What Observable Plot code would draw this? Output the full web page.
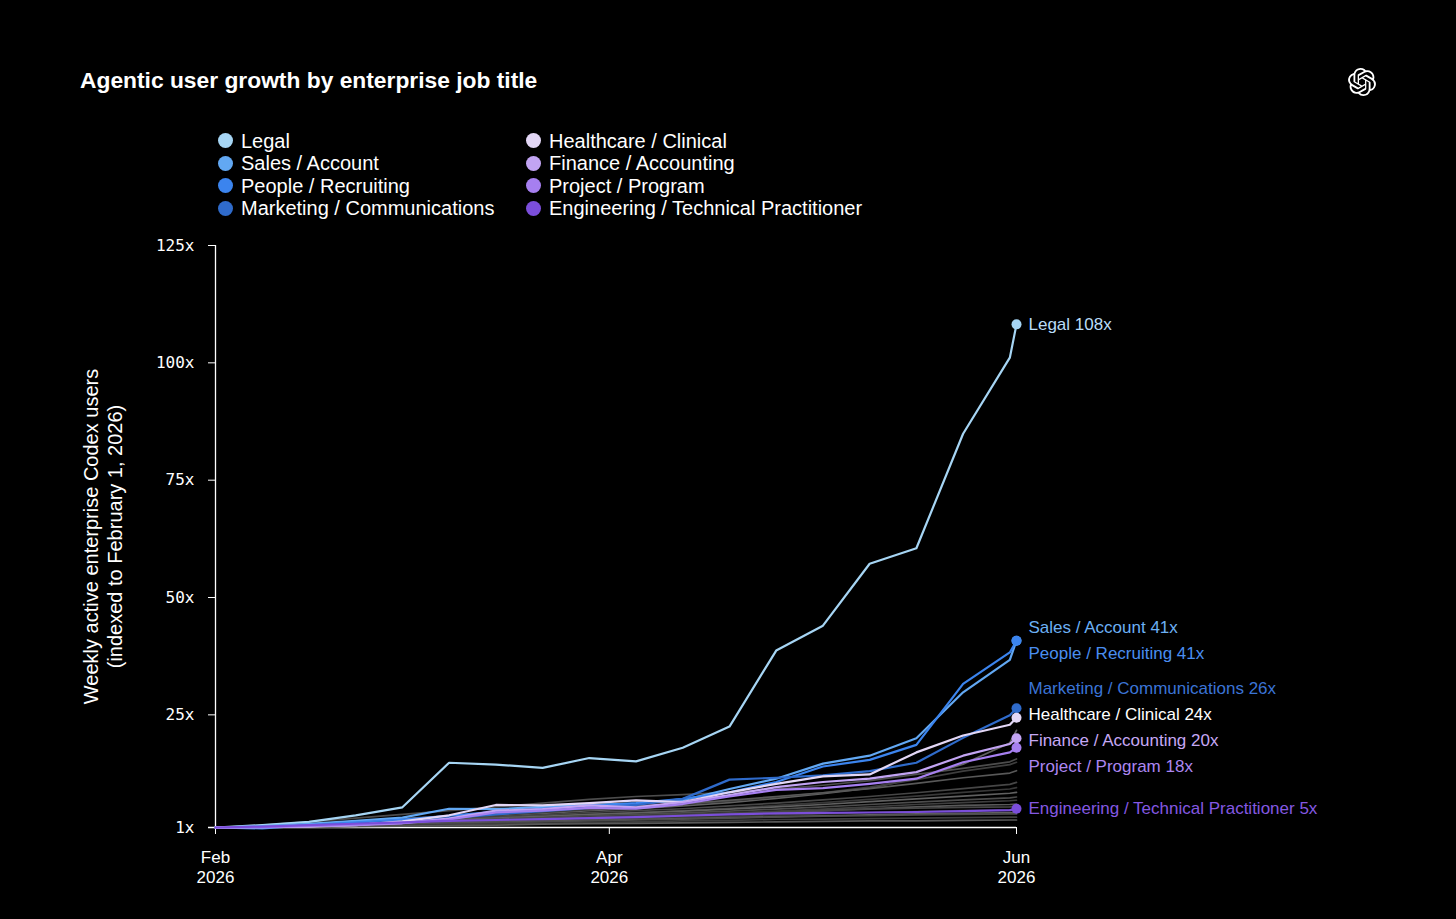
<!DOCTYPE html>
<html><head><meta charset="utf-8">
<script src="https://cdn.jsdelivr.net/npm/d3@7"></script>
<script src="https://cdn.jsdelivr.net/npm/@observablehq/plot@0.6"></script>
<style>
html,body{margin:0;padding:0;background:#000;}
body{width:1456px;height:919px;position:relative;overflow:hidden;font-family:"Liberation Sans",Arial,Helvetica,sans-serif;color:#fff;}
#title{position:absolute;left:80px;top:69px;font-size:22.8px;font-weight:bold;line-height:1;white-space:nowrap;}
#logo{position:absolute;left:1348px;top:68px;width:28px;height:28px;}
.legend{position:absolute;top:129.5px;font-size:20px;}
.legend .row{display:flex;align-items:center;white-space:nowrap;height:22.6px;line-height:22.6px;}
.legend .sw{display:inline-block;width:15px;height:15px;border-radius:50%;margin-right:8.5px;flex:none;}
#chart{position:absolute;left:0;top:225px;}
</style></head><body>
<div id="title">Agentic user growth by enterprise job title</div>
<svg id="logo" viewBox="0 0 24 24"><path fill="#fff" d="M22.2819 9.8211a5.9847 5.9847 0 0 0-.5157-4.9108 6.0462 6.0462 0 0 0-6.5098-2.9A6.0651 6.0651 0 0 0 4.9807 4.1818a5.9847 5.9847 0 0 0-3.9977 2.9 6.0462 6.0462 0 0 0 .7427 7.0966 5.98 5.98 0 0 0 .511 4.9107 6.051 6.051 0 0 0 6.5146 2.9001A5.9847 5.9847 0 0 0 13.2599 24a6.0557 6.0557 0 0 0 5.7718-4.2058 5.9894 5.9894 0 0 0 3.9977-2.9001 6.0557 6.0557 0 0 0-.7475-7.0729zm-9.022 12.6081a4.4755 4.4755 0 0 1-2.8764-1.0408l.1419-.0804 4.7783-2.7582a.7948.7948 0 0 0 .3927-.6813v-6.7369l2.02 1.1686a.071.071 0 0 1 .038.052v5.5826a4.504 4.504 0 0 1-4.4945 4.4944zm-9.6607-4.1254a4.4708 4.4708 0 0 1-.5346-3.0137l.142.0852 4.783 2.7582a.7712.7712 0 0 0 .7806 0l5.8428-3.3685v2.3324a.0804.0804 0 0 1-.0332.0615L9.74 19.9502a4.4992 4.4992 0 0 1-6.1408-1.6464zM2.3408 7.8956a4.485 4.485 0 0 1 2.3655-1.9728V11.6a.7664.7664 0 0 0 .3879.6765l5.8144 3.3543-2.0201 1.1685a.0757.0757 0 0 1-.071 0l-4.8303-2.7865A4.504 4.504 0 0 1 2.3408 7.872zm16.5963 3.8558L13.1038 8.364 15.1192 7.2a.0757.0757 0 0 1 .071 0l4.8303 2.7913a4.4944 4.4944 0 0 1-.6765 8.1042v-5.6772a.79.79 0 0 0-.407-.667zm2.0107-3.0231l-.142-.0852-4.7735-2.7818a.7759.7759 0 0 0-.7854 0L9.409 9.2297V6.8974a.0662.0662 0 0 1 .0284-.0615l4.8303-2.7866a4.4992 4.4992 0 0 1 6.6802 4.66zM8.3065 12.863l-2.02-1.1638a.0804.0804 0 0 1-.038-.0567V6.0742a4.4992 4.4992 0 0 1 7.3757-3.4537l-.142.0805L8.704 5.459a.7948.7948 0 0 0-.3927.6813zm1.0976-2.3654l2.602-1.4998 2.6069 1.4998v2.9994l-2.5974 1.4997-2.6067-1.4997Z"/></svg>
<div class="legend" id="leg1" style="left:217.5px"></div>
<div class="legend" id="leg2" style="left:525.5px"></div>
<div id="chart"></div>
<script>
// ---- data ----
const dates = ["2026-02-01","2026-02-08","2026-02-15","2026-02-22","2026-03-01","2026-03-08","2026-03-15","2026-03-22","2026-03-29","2026-04-05","2026-04-12","2026-04-19","2026-04-26","2026-05-03","2026-05-10","2026-05-17","2026-05-24","2026-05-31","2026-06-01"];
const xTicks = ["2026-02-01","2026-04-01","2026-06-01"];
const yTicks = [1, 25, 50, 75, 100, 125];

const names = ["Legal","Sales / Account","People / Recruiting","Marketing / Communications","Healthcare / Clinical","Finance / Accounting","Project / Program","Engineering / Technical Practitioner"];
const legal      = [1, 1.5, 2.2, 3.6, 5.3, 14.8, 14.4, 13.7, 15.8, 15.1, 18.0, 22.5, 38.7, 44.0, 57.2, 60.5, 84.9, 101.1, 108.2];
const sales      = [1, 1.3, 1.8, 2.4, 3.1, 5.0, 4.9, 5.4, 5.8, 6.1, 6.8, 9.2, 11.4, 14.6, 16.3, 20.0, 29.8, 36.7, 40.8];
const people     = [1, 0.8, 1.5, 2.1, 2.7, 3.5, 4.4, 5.0, 5.6, 6.2, 7.1, 8.5, 10.7, 14.0, 15.4, 18.6, 31.6, 38.3, 40.8];
const marketing  = [1, 1.1, 1.4, 1.8, 2.3, 3.0, 3.8, 4.5, 5.2, 5.8, 7.1, 11.2, 11.6, 12.1, 13.0, 14.8, 20.1, 24.9, 26.4];
const healthcare = [1, 1.1, 1.2, 1.5, 2.3, 3.6, 5.8, 5.7, 6.2, 6.8, 6.4, 8.5, 10.3, 11.9, 12.3, 17.0, 20.6, 22.9, 24.4];
const finance    = [1, 1.1, 1.3, 1.6, 2.0, 2.9, 4.6, 4.9, 5.7, 5.3, 6.4, 7.9, 9.6, 10.7, 11.4, 12.8, 16.3, 18.8, 20.0];
const project    = [1, 1.1, 1.3, 1.5, 1.9, 2.7, 4.2, 4.6, 5.2, 5.0, 6.0, 7.6, 9.0, 9.4, 10.3, 11.4, 14.9, 17.0, 18.0];
const engineering= [1, 1.2, 1.5, 1.8, 2.1, 2.4, 2.6, 2.8, 3.0, 3.2, 3.5, 3.8, 4.0, 4.1, 4.2, 4.3, 4.5, 4.7, 5.0];

// other job titles (grey background lines)
const g01 = [1,1.3,1.7,2.1,2.6,3.0,3.5,4.0,4.6,5.0,5.6,6.3,7.2,8.2,9.4,11.5,14.5,19.0,21.7];
const g02 = [1,1.5,2.2,3.0,3.8,4.6,5.4,6.2,7.0,7.6,8.0,8.5,9.2,10.0,11.0,12.3,13.6,15.0,15.6];
const g03 = [1,1.2,1.6,2.0,2.5,3.0,3.6,4.2,4.8,5.3,5.9,6.6,7.5,8.4,9.6,11.2,13.0,14.4,14.9];
const g04 = [1,1.3,1.8,2.3,2.9,3.5,4.0,4.6,5.2,5.6,6.1,6.8,7.6,8.4,9.3,10.4,11.6,12.6,13.1];
const g05 = [1,1.2,1.5,1.9,2.3,2.8,3.2,3.7,4.2,4.6,5.0,5.6,6.2,6.9,7.6,8.4,9.3,10.2,10.6];
const g06 = [1,1.1,1.4,1.7,2.1,2.5,2.9,3.4,3.8,4.2,4.6,5.1,5.7,6.3,7.0,7.7,8.5,9.2,9.5];
const g07 = [1,1.2,1.5,1.8,2.2,2.6,3.0,3.4,3.8,4.1,4.5,4.9,5.4,5.9,6.5,7.1,7.7,8.3,8.5];
const g08 = [1,1.2,1.4,1.7,2.0,2.4,2.8,3.1,3.5,3.8,4.1,4.5,4.9,5.4,5.9,6.4,6.9,7.3,7.5];
const g09 = [1,1.1,1.3,1.6,1.9,2.2,2.5,2.8,3.1,3.4,3.7,4.1,4.5,4.9,5.4,5.9,6.3,6.7,6.8];
const g10 = [1,1.1,1.3,1.5,1.8,2.0,2.3,2.6,2.9,3.2,3.5,3.8,4.2,4.6,5.0,5.4,5.7,5.9,6.0];
const g11 = [1,1.2,1.4,1.7,2.0,2.3,2.6,2.9,3.2,3.5,3.8,4.0,4.3,4.6,4.9,5.1,5.3,5.4,5.5];
const g12 = [1,1.1,1.2,1.4,1.6,1.9,2.1,2.4,2.7,2.9,3.2,3.4,3.7,3.9,4.2,4.4,4.6,4.7,4.8];
const g13 = [1,1.1,1.3,1.5,1.7,1.9,2.1,2.3,2.5,2.7,2.9,3.1,3.3,3.5,3.7,3.9,4.0,4.2,4.2];
const g14 = [1,1.0,1.2,1.4,1.6,1.8,2.0,2.2,2.4,2.6,2.8,3.0,3.2,3.4,3.5,3.7,3.8,3.9,3.9];
const g15 = [1,1.0,1.1,1.3,1.4,1.6,1.8,1.9,2.1,2.2,2.4,2.5,2.7,2.8,2.9,3.0,3.1,3.2,3.2];
const g16 = [1,1.0,1.1,1.2,1.3,1.4,1.5,1.7,1.8,1.9,2.0,2.1,2.2,2.3,2.4,2.4,2.5,2.6,2.6];

// ---- styling ----
const colors = ["#a6d5f4","#62a8f3","#3b84ee","#2f6bcb","#e3d7f6","#c2a4f3","#a67ff0","#7b4edb"];
const labelColors = ["#b9dcf8","#6cb0f4","#4a8ef0","#3b74d6","#ffffff","#c6a8f4","#ac86f1","#8458e2"];
const greyShades = ["#606060","#4c4c4c","#3e3e3e","#585858","#464646","#383838"];

const mainSeries = [legal, sales, people, marketing, healthcare, finance, project, engineering];
const greySeries = [g01,g02,g03,g04,g05,g06,g07,g08,g09,g10,g11,g12,g13,g14,g15,g16];

// legend
names.forEach((n, i) => {
  const col = document.getElementById(i < 4 ? "leg1" : "leg2");
  const row = document.createElement("div");
  row.className = "row";
  row.innerHTML = `<span class="sw" style="background:${colors[i]}"></span><span>${n}</span>`;
  col.appendChild(row);
});

const toRows = (arr, name, idx) => arr.map((v, i) => ({series: name, idx, date: new Date(dates[i]), value: v}));
const mainRows = mainSeries.map((arr, k) => toRows(arr, names[k], k));
const greyRows = greySeries.map((arr, k) => toRows(arr, "g" + k, k));

const W = 1456, H = 680, mT = 20, mB = 78, mL = 215, mR = 440;
const yPix = d3.scaleLinear().domain([1, 125]).range([H - mB, mT]);

// end labels with simple vertical dodge (pixel space)
const ends = mainRows.map(r => r[r.length - 1]);
const lab = ends.map(d => ({...d, py: yPix(d.value), orig: yPix(d.value)}));
const gap = 26;
const order = lab.slice().sort((a, b) => a.py - b.py);
for (let iter = 0; iter < 50; iter++) {
  let moved = false;
  const clusters = [];
  order.forEach(d => {
    const last = clusters[clusters.length - 1];
    if (last && d.py - last[last.length - 1].py < gap - 0.01) { last.push(d); return; }
    clusters.push([d]);
  });
  clusters.forEach(c => {
    if (c.length < 2) return;
    const mean = d3.mean(c, d => d.orig);
    c.forEach((d, j) => {
      const ny = mean + (j - (c.length - 1) / 2) * gap;
      if (Math.abs(ny - d.py) > 0.01) moved = true;
      d.py = ny;
    });
  });
  if (!moved) break;
}
lab.forEach(d => { d.labelY = yPix.invert(d.py); d.text = `${d.series} ${Math.round(d.value)}x`; });

const marks = [];
marks.push(Plot.ruleX([new Date(dates[0])], {y1: 1, y2: 125, stroke: "#fff", strokeWidth: 1.3}));
marks.push(Plot.ruleY([1], {stroke: "#fff", strokeWidth: 1.5, insetLeft: -7}));
marks.push(Plot.axisX({
  ticks: xTicks.map(s => new Date(s)),
  tickFormat: d => d3.utcFormat("%b")(d) + "\n" + d3.utcFormat("%Y")(d),
  tickSize: 7, tickPadding: 14, fontSize: 17, lineHeight: 1.18,
  fontFamily: "Liberation Sans, Arial, sans-serif", stroke: "#fff", fill: "#fff", label: null
}));
marks.push(Plot.axisY({
  ticks: yTicks, tickFormat: d => d + "x",
  tickSize: 7, tickPadding: 14, fontSize: 16,
  fontFamily: "DejaVu Sans Mono, monospace", stroke: "#fff", fill: "#fff", label: null
}));
greyRows.forEach((rows, k) => {
  marks.push(Plot.line(rows, {x: "date", y: "value", stroke: greyShades[k % greyShades.length], strokeWidth: 1.7}));
});
mainRows.forEach((rows, k) => {
  marks.push(Plot.line(rows, {x: "date", y: "value", stroke: colors[k], strokeWidth: 2.2}));
});
mainRows.forEach((rows, k) => {
  marks.push(Plot.dot([rows[rows.length - 1]], {x: "date", y: "value", fill: colors[k], r: 5}));
});
marks.push(Plot.text(lab, {
  x: "date", y: "labelY", text: "text", dx: 12, textAnchor: "start", lineAnchor: "middle",
  fill: d => labelColors[d.idx], fontSize: 17, fontFamily: "Liberation Sans, Arial, sans-serif"
}));
marks.push(Plot.text(["Weekly active enterprise Codex users\n(indexed to February 1, 2026)"], {
  frameAnchor: "left", rotate: -90, dx: -113, textAnchor: "middle", lineAnchor: "middle",
  lineHeight: 1.2, fontSize: 20, fill: "#fff", fontFamily: "Liberation Sans, Arial, sans-serif"
}));

const chart = Plot.plot({
  width: W, height: H, marginTop: mT, marginBottom: mB, marginLeft: mL, marginRight: mR,
  style: {background: "#000", color: "#fff", overflow: "visible", fontFamily: "Liberation Sans, Arial, sans-serif"},
  x: {type: "utc", domain: [new Date("2026-02-01"), new Date("2026-06-01")]},
  y: {domain: [1, 125]},
  color: {type: "identity"},
  marks
});
document.getElementById("chart").appendChild(chart);
</script>
</body></html>
